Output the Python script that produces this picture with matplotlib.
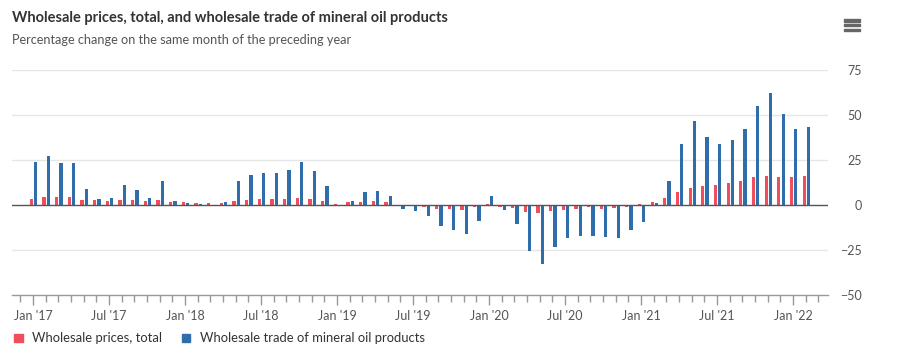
import matplotlib
matplotlib.use("Agg")
import matplotlib.pyplot as plt
from matplotlib.patches import Rectangle

plt.rcParams["font.family"] = ["Lato", "DejaVu Sans"]

RED = "#ee4f5a"
BLUE = "#2f6dab"
INK = "#333333"
MUT = "#555555"
GRID = "#e6e6e6"

# monthly, Jan 2017 .. Feb 2022
MONTH_LABELS = ["Jan '17", "Jul '17", "Jan '18", "Jul '18", "Jan '19", "Jul '19",
                "Jan '20", "Jul '20", "Jan '21", "Jul '21", "Jan '22"]
WHOLESALE = [3.5, 4.6, 4.6, 4.6, 2.9, 2.6, 2.0, 2.9, 2.9, 2.4, 2.9, 1.5,
             1.5, 1.1, 0.9, 0.9, 2.4, 2.9, 3.5, 3.5, 3.5, 4.1, 3.5, 2.4,
             0.8, 1.5, 1.5, 2.0, 1.5, 0.2, -0.3, -1.1, -2.2, -2.2, -2.6, -1.1,
             0.3, -1.1, -1.7, -3.7, -4.3, -3.1, -2.6, -2.0, -1.3, -2.0, -1.7, -0.9,
             0.3, 1.7, 4.1, 7.2, 9.4, 10.6, 10.9, 12.0, 13.1, 15.4, 16.3, 15.7,
             15.7, 16.3]
MINERAL_OIL = [23.7, 27.4, 23.1, 23.1, 8.7, 3.5, 4.1, 10.9, 8.3, 4.1, 13.2, 2.4,
               0.9, 0.3, -0.6, 1.5, 13.2, 16.9, 18.0, 18.0, 19.4, 23.7, 18.9, 10.4,
               0.2, 2.4, 7.2, 7.8, 5.2, -2.2, -3.3, -5.9, -11.5, -13.9, -16.1, -8.7,
               5.2, -2.8, -10.6, -25.6, -32.6, -23.5, -18.1, -17.0, -17.0, -17.6, -18.1, -13.9,
               -9.6, 0.9, 13.5, 33.9, 46.7, 37.6, 33.9, 36.1, 42.4, 54.8, 62.2, 50.6,
               42.0, 43.5]


def main():
    n = len(WHOLESALE)
    x = list(range(n))
    fig = plt.figure(figsize=(9, 3.6), dpi=100)
    fig.patch.set_facecolor("white")
    ax = fig.add_axes([0.0133, 0.1806, 0.9067, 0.625])
    ax.set_xlim(-1.66, 62.75)
    ax.set_ylim(-50, 75)

    for s in ("top", "left", "right"):
        ax.spines[s].set_visible(False)
    ax.spines["bottom"].set_color("#999999")
    ax.spines["bottom"].set_linewidth(1)

    for gy in (75, 50, 25, -25):
        ax.axhline(gy, color=GRID, lw=1, zorder=0)
    ax.axhline(0, color="#555555", lw=1, zorder=4)

    bw = 0.26
    ax.bar([i - 0.13 for i in x], WHOLESALE, width=bw, color=RED, zorder=3, lw=0)
    ax.bar([i + 0.21 for i in x], MINERAL_OIL, width=bw, color=BLUE, zorder=3, lw=0)

    # y axis on the right
    ax.yaxis.tick_right()
    ax.set_yticks([-50, -25, 0, 25, 50, 75])
    ax.tick_params(axis="y", length=0, pad=24.5, labelsize=9, labelcolor=MUT)
    for t in ax.get_yticklabels():
        t.set_ha("right")

    # x axis: label every 6 months, minor tick every month
    ax.set_xticks(list(range(0, n, 6)))
    ax.set_xticklabels(MONTH_LABELS)
    ax.set_xticks(list(range(-1, 63)), minor=True)
    ax.tick_params(axis="x", which="major", length=7, width=1, color="#999999",
                   labelsize=9, labelcolor=MUT, pad=4)
    ax.tick_params(axis="x", which="minor", length=5, width=1, color="#999999")

    fig.text(0.0133, 0.95, "Wholesale prices, total, and wholesale trade of mineral oil products",
             fontsize=10.5, fontweight="bold", color=INK, va="center")
    fig.text(0.0133, 0.888, "Percentage change on the same month of the preceding year",
             fontsize=9.2, color=MUT, va="center")

    # menu icon
    for k in range(3):
        fig.patches.append(Rectangle((0.938, 0.94 - k * 0.0135), 0.018, 0.0065,
                                     transform=fig.transFigure, color="#666666"))

    # legend
    items = [("Wholesale prices, total", RED, 0.0156), ("Wholesale trade of mineral oil products", BLUE, 0.202)]
    for name, col, lx in items:
        fig.patches.append(Rectangle((lx, 0.05), 0.0094, 0.0236, transform=fig.transFigure, color=col))
        fig.text(lx + 0.02, 0.061, name, fontsize=9.4, color=INK, va="center")

    fig.savefig("out.png", dpi=100, facecolor="white")


if __name__ == "__main__":
    main()
